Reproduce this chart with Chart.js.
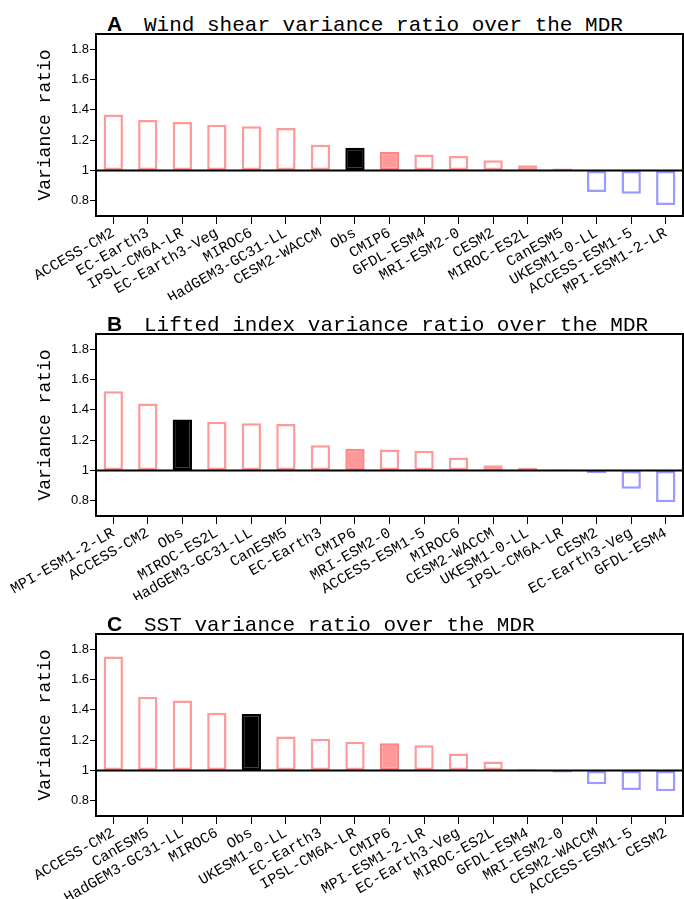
<!DOCTYPE html>
<html>
<head>
<meta charset="utf-8">
<script src="https://cdn.jsdelivr.net/npm/chart.js@4.4.1/dist/chart.umd.min.js"></script>
<style>
  body { margin: 0; background: #fff; }
  .panel { position: relative; width: 684px; height: 300px; }
  .panel canvas { position: absolute; left: 0; top: 0; }
  .ttl { position: absolute; left: 107px; top: 12px; font: 21px "Liberation Mono", monospace; line-height: 21px; white-space: pre; color: #000; }
  .ttl b { font: bold 21px "Liberation Sans", Arial, sans-serif; display: inline-block; width: 37px; }
</style>
</head>
<body>
<div class="panel"><div class="ttl"><b>A</b>Wind shear variance ratio over the MDR</div><canvas id="chartA" width="684" height="320"></canvas></div>
<div class="panel"><div class="ttl"><b>B</b>Lifted index variance ratio over the MDR</div><canvas id="chartB" width="684" height="320"></canvas></div>
<div class="panel"><div class="ttl"><b>C</b>SST variance ratio over the MDR</div><canvas id="chartC" width="684" height="320"></canvas></div>
<script>
// panel A - wind shear
var modelsA = ["ACCESS-CM2", "EC-Earth3", "IPSL-CM6A-LR", "EC-Earth3-Veg", "MIROC6", "HadGEM3-GC31-LL",
  "CESM2-WACCM", "Obs", "CMIP6", "GFDL-ESM4", "MRI-ESM2-0", "CESM2", "MIROC-ES2L", "CanESM5",
  "UKESM1-0-LL", "ACCESS-ESM1-5", "MPI-ESM1-2-LR"];
var ratioA = [1.37, 1.333, 1.32, 1.302, 1.291, 1.28, 1.17, 1.15, 1.123, 1.106, 1.095, 1.068, 1.035, 1.013,
  0.859, 0.846, 0.773];

// panel B - lifted index
var modelsB = ["MPI-ESM1-2-LR", "ACCESS-CM2", "Obs", "MIROC-ES2L", "HadGEM3-GC31-LL", "CanESM5", "EC-Earth3",
  "CMIP6", "MRI-ESM2-0", "ACCESS-ESM1-5", "MIROC6", "CESM2-WACCM", "UKESM1-0-LL", "IPSL-CM6A-LR",
  "CESM2", "EC-Earth3-Veg", "GFDL-ESM4"];
var ratioB = [1.522, 1.441, 1.337, 1.322, 1.311, 1.306, 1.167, 1.143, 1.139, 1.13, 1.086, 1.035, 1.018, 1.007,
  0.982, 0.879, 0.791];

// panel C - SST
var modelsC = ["ACCESS-CM2", "CanESM5", "HadGEM3-GC31-LL", "MIROC6", "Obs", "UKESM1-0-LL", "EC-Earth3",
  "IPSL-CM6A-LR", "CMIP6", "MPI-ESM1-2-LR", "EC-Earth3-Veg", "MIROC-ES2L", "GFDL-ESM4", "MRI-ESM2-0",
  "CESM2-WACCM", "ACCESS-ESM1-5", "CESM2"];
var ratioC = [1.751, 1.487, 1.461, 1.381, 1.372, 1.225, 1.209, 1.19, 1.179, 1.167, 1.112, 1.06, 1.009, 0.987,
  0.91, 0.872, 0.863];

var yTicks = [0.8, 1, 1.2, 1.4, 1.6, 1.8];

// frame + reference line at 1
var framePlugin = {
  id: 'frame',
  afterDatasetsDraw: function(chart) {
    var ctx = chart.ctx, a = chart.chartArea;
    var y1 = chart.scales.y.getPixelForValue(1);
    ctx.save();
    ctx.strokeStyle = '#000';
    ctx.lineWidth = 2;
    ctx.beginPath();
    ctx.moveTo(a.left, y1);
    ctx.lineTo(a.right, y1);
    ctx.stroke();
    ctx.strokeRect(a.left, a.top, a.right - a.left, a.bottom - a.top);
    ctx.restore();
  }
};

function makeChart(id, labels, values) {
  var fill = [], line = [];
  labels.forEach(function(name, i) {
    if (name == "Obs") { fill.push('#000'); line.push('#000'); }
    else if (name == "CMIP6") { fill.push('#ff9999'); line.push('#ff8585'); }
    else if (values[i] >= 1) { fill.push('#fff'); line.push('#ff9a9a'); }
    else { fill.push('#fff'); line.push('#9a9aff'); }
  });

  new Chart(document.getElementById(id), {
    type: 'bar',
    data: {
      labels: labels,
      datasets: [{
        data: values,
        base: 1,
        backgroundColor: fill,
        borderColor: line,
        borderWidth: 2.5,
        borderSkipped: false,
        barPercentage: 0.56,
        categoryPercentage: 1
      }]
    },
    options: {
      responsive: false,
      animation: false,
      layout: { padding: { left: 0, right: 1, top: 34, bottom: 20 } },
      plugins: { legend: { display: false }, tooltip: { enabled: false } },
      scales: {
        x: {
          offset: true,
          grid: { offset: false, drawOnChartArea: false, drawTicks: true, tickLength: 8, color: '#000', lineWidth: 1 },
          border: { display: false },
          ticks: {
            autoSkip: false, minRotation: 30, maxRotation: 30, padding: 0,
            color: '#000', font: { family: 'Liberation Mono', size: 15 }
          },
          afterFit: function(s) { s.height = 84; }
        },
        y: {
          min: 0.7, max: 1.9,
          grid: { drawOnChartArea: false, drawTicks: true, tickLength: 6, color: '#000', lineWidth: 1 },
          border: { display: false },
          afterBuildTicks: function(s) { s.ticks = yTicks.map(function(v) { return { value: v }; }); },
          ticks: {
            padding: 1, color: '#000', font: { family: 'Liberation Sans', size: 13 },
            callback: function(v) { return String(+v.toFixed(1)); }
          },
          title: {
            display: true, text: 'Variance ratio', color: '#000',
            font: { family: 'Liberation Mono', size: 18 }, padding: { top: 34, bottom: 0 }
          },
          afterFit: function(s) { s.width = 96; }
        }
      }
    },
    plugins: [framePlugin]
  });
}

makeChart('chartA', modelsA, ratioA);
makeChart('chartB', modelsB, ratioB);
makeChart('chartC', modelsC, ratioC);
</script>
</body>
</html>
